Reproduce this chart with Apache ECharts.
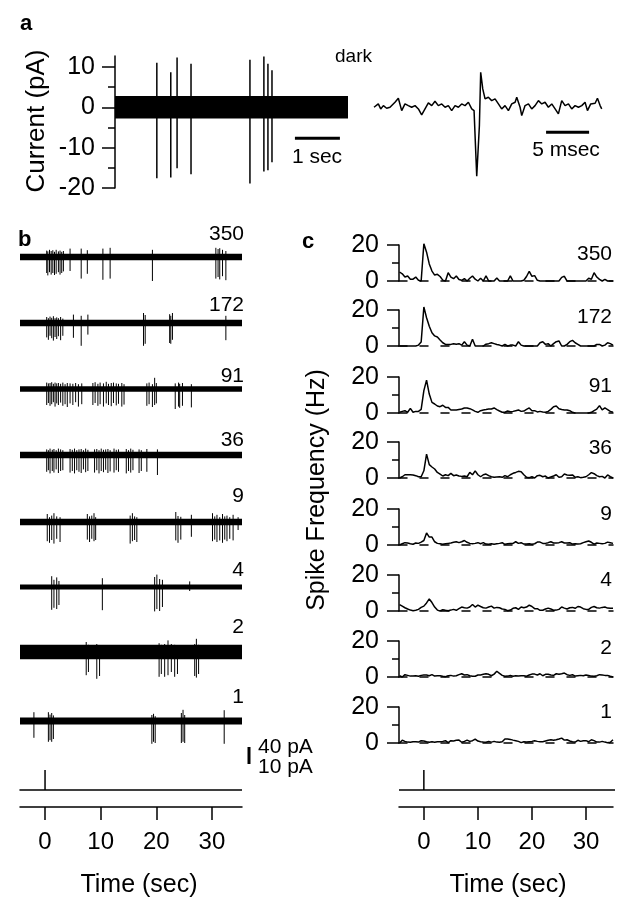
<!DOCTYPE html>
<html>
<head>
<meta charset="utf-8">
<script src="https://cdn.jsdelivr.net/npm/echarts@6/dist/echarts.min.js"></script>
<style>
  html, body { margin: 0; padding: 0; background: #fff; }
  #chart { width: 629px; height: 913px; }
</style>
</head>
<body>
<div id="chart"></div>
<script>
const FONT = '"Liberation Sans", Arial, Helvetica, sans-serif';

// ---------- panel a : dark recording (pA vs sec) ----------
const aSpan = [0, 5.18];
const aNoiseHalf = 2.8;
// [time (s), bottom (pA), top (pA)]
const aSpikes = [
  [0.93, -17.6, 11], [1.24, -17.4, 8.7], [1.38, -15.1, 12.3], [1.69, -16.6, 10.8],
  [3.0, -18.9, 11.8], [3.31, -15.9, 12.6], [3.4, -15.6, 10.8], [3.49, -13.6, 9.2]
];
const aSecBar = [[4, -7.7], [5, -7.7]];
// single spike waveform (ms, pA)
const aWaveT = [0,0.5,0.78,1.09,1.47,1.86,2.44,2.83,3.22,3.6,3.99,4.38,4.77,5.16,5.54,5.93,6.32,6.71,7.09,7.48,
  7.87,8.26,8.64,9.03,9.42,9.81,10.19,10.58,10.97,11.36,11.63,11.94,12.25,12.4,12.64,12.91,13.29,13.68,14.07,14.46,
  14.84,15.23,15.62,16.01,16.4,16.59,16.98,17.17,17.56,17.95,18.33,18.72,19.11,19.5,19.88,20.27,20.66,21.05,21.43,21.82,
  22.21,22.6,22.98,23.37,23.76,24.15,24.53,24.81,25.19,25.7,25.97,26.28,26.47];
const aWaveV = [0,0.83,-0.41,0.41,-0.25,0,1.24,2.23,-0.83,0.83,0.41,0,0.41,-0.41,-1.9,-0.41,1.07,0.41,1.49,0.41,
  0.83,0,0.41,-0.83,0.41,0,0.83,0.41,1.24,-0.41,-0.83,-17.1,-4.5,8.68,4.55,2.07,2.48,1.65,2.07,0.83,
  -0.41,0.41,-0.83,0.83,1.24,2.48,0,-2.07,0.41,0.83,-0.41,0.41,1.65,0.83,1.24,0,0.83,-0.41,-1.65,1.65,
  0.41,0.83,-0.41,0.41,0,0.41,1.24,-0.83,0.83,0.99,2.23,0.41,-0.41];
const aMsecBar = [[20, -6.2], [25, -6.2]];

// ---------- panel b : responses to flashes ----------
const bIntensity = ['350', '172', '91', '36', '9', '4', '2', '1'];
const bSpan = [-4.5, 35.4];
const bNoiseHalf = [8, 8, 7, 8, 8, 6, 18, 9];
const bSpikes = [
  [[0.3,-40,16],[0.5,-46,14],[0.8,-38,18],[1.1,-44,15],[1.4,-40,17],[1.7,-45,13],[2.0,-42,18],[2.4,-38,14],
   [2.7,-44,16],[3.0,-40,13],[3.3,-36,15],[4.5,-35,21],[6.5,-54,21],[7.6,-42,17],[10.4,-57,21],[11.7,-54,23],
   [19.3,-60,18],[30.7,-54,23],[31.1,-50,20],[31.4,-56,22],[31.9,-48,18],[32.5,-58,15]],
  [[0.3,-36,15],[0.6,-42,12],[0.9,-32,16],[1.2,-38,13],[1.5,-44,17],[1.8,-35,12],[2.1,-40,14],[2.4,-33,12],
   [2.8,-43,15],[3.2,-32,11],[5.1,-37,21],[6.5,-57,18],[7.7,-29,21],[17.7,-57,25],[18.0,-52,20],[22.4,-50,22],
   [22.6,-52,18],[22.9,-42,25],[32.5,-43,18]],
  [[0.3,-40,16],[0.6,-35,14],[0.9,-42,15],[1.2,-38,17],[1.5,-33,13],[1.8,-44,16],[2.1,-36,14],[2.4,-40,15],
   [2.8,-34,13],[3.2,-42,16],[3.6,-38,12],[4.0,-45,15],[4.5,-36,14],[5.0,-40,13],[5.5,-33,15],[6.0,-44,12],
   [6.6,-38,14],[8.6,-40,15],[9.0,-35,17],[9.5,-42,13],[9.9,-38,16],[10.5,-44,14],[11.0,-36,18],[11.4,-40,13],
   [11.9,-43,15],[12.3,-35,16],[12.8,-41,14],[13.2,-37,13],[13.8,-44,15],[14.2,-39,12],[18.3,-42,14],[18.7,-38,16],
   [19.3,-45,12],[19.7,-40,28],[20.0,-36,15],[23.4,-50,14],[24.0,-44,16],[24.2,-47,13],[24.7,-42,15],[26.3,-46,12]],
  [[0.3,-42,14],[0.6,-38,12],[0.9,-46,16],[1.3,-40,13],[1.6,-44,15],[2.0,-36,12],[2.4,-45,16],[2.8,-40,14],
   [3.2,-38,12],[4.5,-44,15],[4.9,-40,13],[5.3,-46,16],[5.7,-38,12],[6.1,-42,14],[6.5,-45,15],[6.9,-36,12],
   [7.3,-43,16],[7.7,-40,13],[8.9,-44,14],[9.3,-38,15],[9.7,-46,12],[10.1,-40,16],[10.5,-43,13],[10.9,-37,14],
   [11.3,-45,15],[11.7,-41,12],[12.4,-44,16],[12.8,-38,13],[13.2,-42,14],[14.6,-46,15],[15.0,-40,12],[15.4,-44,16],
   [15.8,-38,13],[16.9,-45,14],[17.3,-40,12],[18.3,-42,15],[20.2,-50,14]],
  [[0.4,-48,20],[0.8,-52,12],[1.2,-45,16],[1.6,-54,22],[2.1,-42,14],[2.7,-50,12],[7.6,-44,20],[8.0,-50,14],
   [8.4,-42,16],[8.8,-48,22],[9.1,-45,12],[15.3,-54,16],[15.7,-48,22],[16.1,-45,14],[16.5,-50,12],[23.5,-46,25],
   [23.9,-52,15],[24.4,-44,13],[26.3,-37,18],[30.1,-48,22],[30.5,-44,14],[30.9,-50,18],[31.4,-46,12],[31.9,-52,20],
   [32.3,-44,14],[32.7,-48,16],[33.2,-42,12],[33.8,-46,18],[34.7,-20,12]],
  [[1.2,-57,27],[1.6,-52,18],[2.1,-55,24],[2.5,-45,15],[10.3,-58,22],[19.7,-61,25],[20.1,-55,31],[20.6,-60,20],
   [21.1,-50,18],[26.0,-10,14]],
  [[7.4,-58,25],[7.8,-50,18],[9.3,-67,20],[9.8,-60,15],[20.5,-62,22],[20.9,-55,18],[21.5,-62,20],[22.1,-58,29],
   [22.7,-50,20],[23.3,-62,18],[23.8,-55,15],[26.9,-60,20],[27.2,-64,33],[27.6,-55,18]],
  [[-2.0,-42,22],[0.6,-52,22],[0.9,-48,16],[1.2,-52,20],[1.5,-45,14],[19.2,-57,15],[19.5,-52,18],[19.8,-55,12],
   [24.5,-55,20],[24.8,-52,28],[25.1,-55,15],[32.2,-57,27]]
];

// ---------- panel c : spike frequency (Hz), 0.5 s bins ----------
const cTimes = [-4.5,-4,-3.5,-3,-2.5,-2,-1.5,-1,-0.5,0,
  0.5,1,1.5,2,2.5,3,3.5,4,4.5,5,
  5.5,6,6.5,7,7.5,8,8.5,9,9.5,10,
  10.5,11,11.5,12,12.5,13,13.5,14,14.5,15,
  15.5,16,16.5,17,17.5,18,18.5,19,19.5,20,
  20.5,21,21.5,22,22.5,23,23.5,24,24.5,25,
  25.5,26,26.5,27,27.5,28,28.5,29,29.5,30,
  30.5,31,31.5,32,32.5,33,33.5,34,34.5,35];
const cRate350 = [5,4,2.2,2.8,1,1,2.2,0.4,0,20.7, 16,9.5,5.5,3.3,3.7,2.5,0.5,0,4.6,2.2,
  1.3,2.8,0.8,0.4,1.3,0,1.5,2.8,1,0, 1.5,0,2.8,0,0,0,1.7,0,0,0,
  0,2.8,0,0,0,0,0.4,2.5,5.4,2.6, 3,0.4,0,0,0,0,0,0,0,0,
  2,2.6,0,0,0,0,0,0,0,0, 1.5,1,4.6,2.2,0.9,0,0.9,0,0,0];
const cRate172 = [0,0,0,0,0,0,0,0.5,2.2,21.7, 15.7,11,7.4,5.6,5,3.3,1.8,0.9,0.9,0.9,
  1.3,1,1.3,0.5,2.4,0.5,0,3.7,0,0, 0,0,1,1.3,1.8,1.3,0.8,0.5,0,0.9,
  0,0.5,0.5,0,2.4,0.5,0,0,0,0, 0,0,1.8,2.4,0.9,1.3,0,1.3,2.4,2.8,
  0,0,0.9,2.4,3.1,1.8,0.9,0,0,0, 0,0,0,0.9,0.9,0,0.5,1.8,1.3,0.5];
const cRate91 = [0.4,0.9,1.3,0.4,2.6,0.4,0.9,0.9,2,12.4, 18.3,10.5,5.9,5,3.9,3.5,4.3,3.1,3.1,1.7,
  1.7,1.7,2,2.2,2.8,2.8,2.4,1.7,0.9,0.4, 1.3,1.7,1.9,2.2,2.2,2.8,1.9,1.1,0.4,0.4,
  1.1,0.7,0.9,1.3,1.7,0.9,1.1,2,2.8,1.3, 1.3,0.6,0.9,0.6,0.4,0.9,2,3.5,3.9,2.4,
  1.9,1.7,1.7,1.3,0.4,0,0,0,0,0, 0,0.4,1.3,2.2,4.1,1.7,2.8,1.9,0.9,0.4];
const cRate36 = [0,0.7,1.8,1.8,1.8,1.7,1.3,0.7,0.7,4, 13.3,7.4,6.1,5,3.1,2.2,1.1,1.8,1.3,2.6,
  1.3,1.7,1.1,0.9,1.1,0.7,3.1,1.8,4,1.8, 0.7,1.8,2.2,1.3,0.7,0.4,0.6,0.7,0.4,1.3,
  0.7,1.8,2.6,3.1,3.7,3.5,1.8,0.4,0.2,0.7, 0,1.3,1.5,0.7,1.1,0,0.6,1.1,1.8,0.4,
  0.7,2.2,1.7,1.5,1.7,0.4,0.7,0.2,0.4,0.7, 1.8,3,2.4,1.3,0.7,0.9,0,1.7,0.7,0];
const cRate9 = [0,0.7,1.3,1.1,0.7,0.4,1.1,0.9,1.6,2.5, 6.7,4.4,4.4,1.8,0.9,0.7,0.4,0.7,0.9,1.1,
  1.5,1.8,1.3,1.8,2.5,1.5,0.9,0.7,0.9,1.3, 0.7,1.3,0.5,0.4,0.7,0.4,0.7,0.9,1.3,0.4,
  0.7,0.9,0.9,1.8,0.9,1.3,0.5,0.5,0.7,0.4, 0.7,1.6,1.6,0.9,0.9,1.3,1.8,1.1,1.1,1.3,
  1.8,1.1,1.1,1.3,0.5,0.7,0.5,0.7,1.3,1.8, 2.2,1.5,0.5,1.1,0.9,0.7,0.9,1.6,1.3,0.9];
const cRate4 = [3.6,2.7,1.8,1.1,0.5,0.2,0.4,0.9,2,2.7, 4.5,6.7,4.7,2.2,0.5,0,0.7,0.4,0.2,0.5,
  0.9,0.4,1.3,2.2,1.8,1.6,2.2,3.6,2.2,3.3, 2.5,1.8,1.6,2.2,2.7,1.6,2,1.8,1.1,0.9,
  0.2,0.5,1.5,1.8,0.9,2.2,1.8,2.2,3.3,2.5, 1.3,1.3,0.4,0.4,1.1,1.6,1.1,0.4,0.5,0.9,
  2.2,1.6,1.1,1.8,2,1.5,2.5,2.2,1.3,0.9, 0.9,2,2.5,1.8,1.6,2,2.2,1.6,1.5,1.5];
const cRate2 = [0.7,0,1.3,0.9,0.5,0.5,0.7,0.4,0.9,1.1, 1.1,0.7,1.3,0.5,0.7,0.7,0.4,0.2,0.7,0.9,
  0.5,0.7,1.3,1.8,1.1,1.3,0.7,0.4,0.4,1.1, 1.1,1.5,1.8,1.5,0.7,1.6,3.2,2,0.9,0.4,
  0.5,0.9,0.4,0.7,0.5,0.7,0.7,0.4,1.1,1.6, 1.6,1.1,1.8,0.7,1.5,1.5,1.1,0.9,1.8,1.5,
  1.8,2.2,1.3,0.9,1.3,0.5,0.7,0.9,0.7,1.1, 0.9,0.5,0.4,0.7,1.3,1.1,0.9,0.9,0.4,0];
const cRate1 = [0,1.5,0.9,0.5,0.4,0.7,0.7,0.5,1.3,1.1, 0.7,0.4,0.7,0.4,0.7,0.7,0.9,1.3,0.2,1.3,
  1.1,1.5,1.6,0.4,0.9,1.6,0.9,1.3,2.2,1.1, 0.7,0.5,0.4,0.9,0.5,0.9,0.5,0.4,0.7,2.2,
  2.2,2,1.6,1.3,0.9,0.2,0.7,0.5,0.7,0.9, 1.3,0.9,0.7,0.7,1.1,1.5,1.8,1.5,1.8,2.2,
  2.7,1.6,1.8,1.1,0.7,0.5,1.5,0.9,1.3,1.3, 0.7,1.8,1.3,0.5,0.5,0.9,0.5,0.2,0.4,1.8];
const cRates = [cRate350, cRate172, cRate91, cRate36, cRate9, cRate4, cRate2, cRate1];

// ---------- light stimulus (flash at t = 0) ----------
const stimT = [-4.6, 0, 0, 0, 35.4];
const stimV = [0, 0, 1, 0, 0];
const timeTicks = [0, 10, 20, 30];

// ---------- layout ----------
const bCenters = [257, 323, 389, 455, 522, 587, 652, 721];
const bLabelY = [234, 305, 376, 440, 496, 570, 627, 697];
const cZeros = [281, 346, 413, 478, 545, 611, 677, 743];
const cLabelY = [254, 317, 386, 448, 514, 580, 648, 712];

const grid = [], xAxis = [], yAxis = [], series = [];
function addGrid(g, xa, ya) {
  const gi = grid.length;
  grid.push(g);
  const xi = xAxis.length;
  xAxis.push(Object.assign({ gridIndex: gi, type: 'value', splitLine: { show: false } }, xa));
  const yi = yAxis.length;
  yAxis.push(Object.assign({ gridIndex: gi, type: 'value', position: 'left', splitLine: { show: false } }, ya));
  return { gi, xi, yi };
}
const blackLine = { color: '#000', width: 1.5 };

const spikeRender = (params, api) => {
  const p = api.coord([api.value(0), api.value(1)]);
  const q = api.coord([api.value(0), api.value(2)]);
  return { type: 'line', shape: { x1: p[0], y1: p[1], x2: q[0], y2: q[1] },
    style: { stroke: '#000', lineWidth: params.seriesName === 'a' ? 1.5 : 1 } };
};
const bandRender = (params, api) => {
  const p = api.coord([api.value(0), api.value(2)]);
  const q = api.coord([api.value(1), -api.value(2)]);
  return { type: 'rect', shape: { x: p[0], y: p[1], width: q[0] - p[0], height: q[1] - p[1] },
    style: { fill: '#000' } };
};

// panel a main trace
const A = addGrid({ left: 115, top: 56, width: 233, height: 132 },
  { min: aSpan[0], max: aSpan[1], show: false },
  { min: -20, max: 12.7,
    axisLine: { show: true, onZero: false, lineStyle: blackLine },
    axisTick: { show: true, customValues: [-20, -10, 0, 10], length: 13, lineStyle: blackLine },
    axisLabel: { customValues: [-20, -10, 0, 10], fontSize: 25, color: '#000', margin: 20, fontFamily: FONT } });
yAxis.push({ gridIndex: A.gi, type: 'value', position: 'left', min: -20, max: 12.7, splitLine: { show: false },
  axisLine: { show: false, onZero: false }, axisLabel: { show: false },
  axisTick: { show: true, customValues: [-15, -5, 5], length: 7, lineStyle: blackLine } });
series.push({ type: 'custom', name: 'band', xAxisIndex: A.xi, yAxisIndex: A.yi, renderItem: bandRender,
  data: [[aSpan[0], aSpan[1], aNoiseHalf]] });
series.push({ type: 'custom', name: 'a', xAxisIndex: A.xi, yAxisIndex: A.yi, renderItem: spikeRender, data: aSpikes });
series.push({ type: 'line', xAxisIndex: A.xi, yAxisIndex: A.yi, data: aSecBar, showSymbol: false,
  lineStyle: { color: '#000', width: 3 } });

// panel a inset waveform
const W = addGrid({ left: 374, top: 56, width: 228, height: 132 },
  { min: 0, max: 26.5, show: false }, { min: -20, max: 12.7, show: false });
series.push({ type: 'line', xAxisIndex: W.xi, yAxisIndex: W.yi, data: aWaveT.map((t, i) => [t, aWaveV[i]]),
  showSymbol: false, lineStyle: { color: '#000', width: 1.5 }, clip: false });
series.push({ type: 'line', xAxisIndex: W.xi, yAxisIndex: W.yi, data: aMsecBar, showSymbol: false,
  lineStyle: { color: '#000', width: 3 } });

// panel b traces
bCenters.forEach((c, i) => {
  const g = addGrid({ left: 20, top: c - 16, width: 222, height: 44 },
    { min: bSpan[0], max: bSpan[1], show: false }, { min: -70, max: 40, show: false });
  series.push({ type: 'custom', xAxisIndex: g.xi, yAxisIndex: g.yi, renderItem: bandRender,
    data: [[bSpan[0], bSpan[1], bNoiseHalf[i]]] });
  series.push({ type: 'custom', name: 'b', xAxisIndex: g.xi, yAxisIndex: g.yi, renderItem: spikeRender, data: bSpikes[i] });
});

// panel c histograms
cZeros.forEach((z, i) => {
  const g = addGrid({ left: 399, top: z - 36, width: 214, height: 36 },
    { min: -4.6, max: 35, axisLine: { show: true, onZero: false, lineStyle: { color: '#000', width: 1.5, type: [8, 13] } },
      axisTick: { show: false }, axisLabel: { show: false } },
    { min: 0, max: 20, interval: 20,
      axisLine: { show: true, onZero: false, lineStyle: blackLine },
      axisTick: { show: true, length: 12, lineStyle: blackLine },
      minorTick: { show: true, splitNumber: 2, length: 7, lineStyle: blackLine },
      axisLabel: { fontSize: 25, color: '#000', margin: 20, fontFamily: FONT } });
  series.push({ type: 'line', xAxisIndex: g.xi, yAxisIndex: g.yi, data: cTimes.map((t, k) => [t, cRates[i][k]]),
    showSymbol: false, clip: false, lineStyle: { color: '#000', width: 1.5 } });
});

// stimulus rows with time axes
[{ left: 20, width: 222, min: bSpan[0], max: bSpan[1] }, { left: 399, width: 214, min: -4.6, max: 35 }].forEach(s => {
  const g = addGrid({ left: s.left, top: 765, width: s.width, height: 42 },
    { min: s.min, max: s.max, position: 'bottom',
      axisLine: { show: true, onZero: false, lineStyle: blackLine },
      axisTick: { show: true, customValues: timeTicks, length: 13, lineStyle: blackLine },
      axisLabel: { customValues: timeTicks, fontSize: 24, color: '#000', margin: 23, fontFamily: FONT } },
    { min: -0.85, max: 1.25, show: false });
  series.push({ type: 'line', xAxisIndex: g.xi, yAxisIndex: g.yi, data: stimT.map((t, k) => [t, stimV[k]]),
    showSymbol: false, lineStyle: { color: '#000', width: 1.5 } });
});

// text
const txt = (text, x, y, size, align, extra) => Object.assign({
  type: 'text', x, y,
  style: { text, fill: '#000', font: (extra && extra.bold ? 'bold ' : '') + size + 'px ' + FONT,
    textAlign: align, textVerticalAlign: 'middle' }
}, extra && extra.rotation ? { rotation: extra.rotation } : {});

const graphic = [
  txt('a', 20, 24, 22, 'left', { bold: true }),
  txt('b', 18, 240, 22, 'left', { bold: true }),
  txt('c', 302, 242, 22, 'left', { bold: true }),
  txt('dark', 335, 57, 19, 'left'),
  txt('1 sec', 317, 157, 21, 'center'),
  txt('5 msec', 566, 150, 21, 'center'),
  txt('Current (pA)', 37, 121, 26, 'center', { rotation: Math.PI / 2 }),
  txt('Spike Frequency (Hz)', 317, 490, 25, 'center', { rotation: Math.PI / 2 }),
  txt('Time (sec)', 139, 885, 25, 'center'),
  txt('Time (sec)', 508, 885, 25, 'center'),
  txt('40 pA', 258, 747, 21, 'left'),
  txt('10 pA', 258, 767, 21, 'left'),
  { type: 'rect', shape: { x: 247.5, y: 747, width: 3, height: 17 }, style: { fill: '#000' } }
];
bIntensity.forEach((s, i) => {
  graphic.push(txt(s, 244, bLabelY[i], 21, 'right'));
  graphic.push(txt(s, 612, cLabelY[i], 21, 'right'));
});

const chart = echarts.init(document.getElementById('chart'), null, { renderer: 'canvas' });
chart.setOption({
  animation: false,
  backgroundColor: '#fff',
  textStyle: { fontFamily: FONT },
  grid, xAxis, yAxis, series, graphic
});
</script>
</body>
</html>
